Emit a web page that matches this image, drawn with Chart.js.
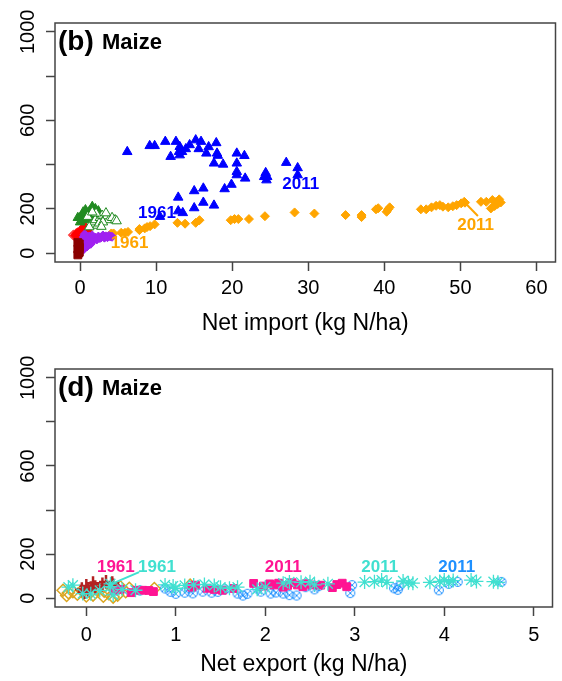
<!DOCTYPE html>
<html>
<head>
<meta charset="utf-8">
<script src="https://cdn.jsdelivr.net/npm/chart.js@4.4.1/dist/chart.umd.min.js"></script>
<style>
  html, body { margin: 0; padding: 0; background: #fff; }
  #wrap { position: relative; width: 562px; height: 681px; }
  #importChart { position: absolute; left: 0; top: 0; }
  #exportChart { position: absolute; left: 0; top: 340px; }
</style>
</head>
<body>
<div id="wrap">
  <canvas id="importChart" width="562" height="340" style="width:562px;height:340px"></canvas>
  <canvas id="exportChart" width="562" height="341" style="width:562px;height:341px"></canvas>
</div>
<script>
// ---- axes ----
const yTicks = [0, 200, 400, 600, 800, 1000];
const yTickLabels = ['0', '200', '', '600', '', '1000'];
const importTicks = [0, 10, 20, 30, 40, 50, 60];
const exportTicks = [0, 1, 2, 3, 4, 5];

// ---- (b) net-importing countries: [net import, y] ----
const importBlue = [
  [10.5,165],[12.9,190],[13.5,182],[15.0,204],[17.6,216],[16.2,229],[12.9,252],[15.0,281],
  [16.2,293],[19.0,290],[19.9,310],[21.7,338],[20.6,353],[20.6,368],[20.6,406],[18.8,401],
  [17.6,406],[21.6,440],[20.6,451],[18.1,441],[18.0,451],[17.9,498],[16.9,480],[16.6,451],
  [15.9,504],[15.6,471],[15.2,511],[14.4,489],[13.9,471],[13.4,458],[13.1,443],[13.0,458],
  [13.1,481],[12.6,504],[11.9,436],[11.2,504],[9.8,485],[9.15,485],[6.2,458],[24.4,363],
  [24.6,345],[24.2,345],[24.5,330],[27.1,409],[28.6,385],[28.6,353]
];
const importOrange = [
  [4.1,89],[4.4,89],[5.4,92],[5.9,92],[6.3,96],[7.8,104],[7.8,109],[8.5,112],[8.8,118],
  [9.2,122],[9.8,130],[12.8,137],[13.8,133],[15.2,137],[15.7,149],[19.8,149],[20.3,154],
  [20.8,154],[22.2,154],[24.3,167],[28.2,184],[30.8,179],[34.9,172],[37.0,172],[37.0,163],
  [38.9,198],[39.2,203],[40.3,187],[40.5,198],[40.7,207],[44.8,198],[45.5,198],[46.2,207],
  [46.8,214],[47.3,217],[47.7,210],[48.4,207],[49.0,212],[49.5,217],[50.1,225],[50.5,232],
  [52.7,232],[53.4,232],[54.2,240],[54.7,232],[55.1,243],[55.3,229],[54.0,202],[54.5,213],
  [54.9,222],[50.6,228]
];
const importGreen = [
  [0.0,140],[0.2,150],[0.1,165],[0.3,170],[0.5,160],[0.6,175],[0.8,180],[1.0,170],[1.1,185],
  [1.3,190],[1.5,200],[1.6,210],[1.8,195],[2.0,200],[2.2,185],[2.4,190],[2.6,175],[1.2,160],
  [0.9,150],[1.7,170],[2.0,165],[0.4,185],[0.7,195],[1.4,178],[2.8,160],[3.0,150],[1.9,150],
  [2.3,145],[-0.3,160]
];
const importGreenOpen = [
  [1.5,130],[1.8,140],[2.0,150],[2.3,125],[2.6,160],[2.9,170],[3.2,155],[3.5,168],[3.8,150],
  [4.2,160],[4.6,150],[4.8,145],[2.5,135],[3.0,140],[1.2,118],[2.1,180],[3.4,181],[1.0,165],
  [1.6,185],[2.8,120]
];
const importRed = [
  [-0.5,80],[-0.3,90],[0.0,95],[0.2,100],[0.4,110],[0.6,118],[0.8,105],[0.3,85],[0.0,75],
  [0.5,95],[0.7,90],[0.9,100]
];
const importRedOpen = [[-0.9,82],[-0.7,78],[-0.5,88]];
const importPurple = [
  [0.2,25],[0.3,35],[0.2,45],[0.3,55],[0.4,65],[0.5,75],[0.6,85],[0.7,40],[0.8,55],[1.0,65],
  [1.0,45],[1.2,75],[1.3,55],[1.5,65],[1.6,80],[1.8,60],[2.0,70],[2.2,62],[2.4,75],[2.6,68],
  [2.8,72],[3.0,80],[3.2,70],[3.4,76],[3.6,72],[3.8,78],[4.0,75],[4.2,74],[0.9,30],[1.4,42],
  [0.5,20],[0.3,12]
];
const importDarkRed = [
  [-0.3,-8],[-0.2,0],[-0.2,10],[-0.3,18],[-0.1,26],[-0.2,34],[-0.1,42],[-0.3,48],[-0.1,4],[-0.15,20]
];

// ---- (d) net-exporting countries: [net export, y] ----
const exportGold = [
  [-0.26,36],[-0.2,25],[-0.15,29],[-0.1,18],[-0.05,35],[0.0,10],[0.05,28],[0.075,14],[0.19,9],
  [0.25,20],[0.3,5],[0.35,14],[0.44,29],[0.48,45],[0.38,52],[0.76,44],[1.16,59],[0.12,40],
  [-0.22,12],[0.2,32]
];
const exportDarkRed = [
  [-0.05,40],[0.0,55],[0.02,36],[0.05,45],[0.075,68],[-0.02,28],[0.1,50],[0.22,74],[0.29,68],
  [0.3,58],[0.18,62]
];
const exportPink = [
  [0.31,33],[0.38,40],[0.5,25],[0.56,36],[0.63,36],[0.7,35],[0.75,30],[1.18,50],[1.22,59],
  [1.35,45],[1.43,40],[1.52,36],[1.65,44],[1.87,67],[1.98,55],[2.05,65],[2.1,60],[2.15,68],
  [2.25,58],[2.3,70],[2.36,60],[2.42,52],[2.46,66],[2.52,60],[2.62,59],[2.75,48],[2.8,62],
  [2.86,68],[2.91,52],[2.2,50]
];
const exportTeal = [
  [-0.2,50],[-0.15,59],[-0.04,21],[0.05,20],[0.15,35],[0.27,52],[0.3,15],[0.27,65],[0.4,40],
  [0.55,36],[0.88,60],[0.97,55],[1.0,45],[1.1,58],[1.2,60],[1.32,62],[1.43,58],[1.6,45],
  [1.69,50],[1.91,40],[2.0,50],[2.2,68],[2.27,74],[2.4,72],[2.5,75],[2.55,60],[3.11,73],
  [3.22,75],[3.3,82],[3.36,72],[3.54,78],[3.6,70],[3.65,68],[3.84,72],[3.95,76],[4.0,82],
  [4.05,75],[4.1,80],[4.3,82],[4.36,76],[4.55,75],[4.6,72],[1.5,50],[2.7,65]
];
const exportBlue = [
  [0.88,44],[0.94,29],[1.0,20],[1.1,25],[1.19,22],[1.3,30],[1.4,25],[1.47,29],[1.55,40],
  [1.69,21],[1.75,12],[1.8,20],[1.91,44],[1.95,30],[2.06,21],[2.12,26],[2.2,21],[2.27,14],
  [2.35,12],[2.55,40],[2.6,55],[2.95,23],[2.97,59],[3.44,45],[3.48,38],[3.5,55],[3.94,36],
  [4.05,65],[4.15,74],[4.64,74],[0.6,35],[1.15,45],[2.45,50]
];

// ---- year annotations [text, x, y, colour] and leader segments ----
const importNotes = [
  ['1961', 10.1, 181, '#0000FF'], ['2011', 29.0, 311, '#0000FF'],
  ['1961', 6.5, 45, '#FFA500'], ['2011', 52.0, 127, '#FFA500']
];
const importLeaders = [[52.3, 168, 50.6, 228, '#FFA500']];
const exportNotes = [
  ['1961', 0.33, 142, '#FF1493'], ['1961', 0.79, 142, '#40E0D0'],
  ['2011', 2.2, 142, '#FF1493'], ['2011', 3.28, 142, '#40E0D0'], ['2011', 4.14, 142, '#1E90FF']
];
const exportLeaders = [[0.59, 118, 0.29, 66, '#40E0D0']];

const FONT = '"Liberation Sans", Arial, Helvetica, sans-serif';
const AXIS_GREY = '#444444';
const pts = arr => arr.map(([x, y]) => ({ x, y }));

// circle with a diagonal cross, used for the blue export series
function circleCross(color) {
  const c = document.createElement('canvas');
  c.width = 12; c.height = 12;
  const g = c.getContext('2d');
  g.strokeStyle = color; g.lineWidth = 1;
  g.beginPath(); g.arc(6, 6, 4.5, 0, Math.PI * 2); g.stroke();
  g.beginPath();
  g.moveTo(2.8, 2.8); g.lineTo(9.2, 9.2);
  g.moveTo(9.2, 2.8); g.lineTo(2.8, 9.2);
  g.stroke();
  return c;
}

// frame, panel tag and year notes
const panelPlugin = {
  id: 'panel',
  afterDatasetsDraw(chart, args, opts) {
    const { ctx, chartArea: a } = chart;
    const sx = chart.scales.x, sy = chart.scales.y;
    ctx.save();
    ctx.strokeStyle = AXIS_GREY;
    ctx.lineWidth = 1.5;
    ctx.strokeRect(a.left, a.top, a.right - a.left, a.bottom - a.top);

    opts.leaders.forEach(([x1, y1, x2, y2, col]) => {
      ctx.strokeStyle = col; ctx.lineWidth = 2;
      ctx.beginPath();
      ctx.moveTo(sx.getPixelForValue(x1), sy.getPixelForValue(y1));
      ctx.lineTo(sx.getPixelForValue(x2), sy.getPixelForValue(y2));
      ctx.stroke();
    });

    ctx.font = 'bold 17px ' + FONT;
    ctx.textAlign = 'center';
    ctx.textBaseline = 'middle';
    opts.notes.forEach(([t, x, y, col]) => {
      ctx.fillStyle = col;
      ctx.fillText(t, sx.getPixelForValue(x), sy.getPixelForValue(y));
    });

    ctx.fillStyle = '#000';
    ctx.textAlign = 'left';
    ctx.textBaseline = 'alphabetic';
    ctx.font = 'bold 28px ' + FONT;
    ctx.fillText(opts.tag, a.left + 3, a.top + 27);
    ctx.font = 'bold 22px ' + FONT;
    ctx.fillText('Maize', a.left + 47, a.top + 26);
    ctx.restore();
  }
};

function gridOpts() {
  return { display: true, drawOnChartArea: false, drawTicks: true, tickLength: 9,
           tickWidth: 1.5, tickColor: AXIS_GREY };
}

function buildChart(id, cfg) {
  return new Chart(document.getElementById(id), {
    type: 'scatter',
    data: { datasets: cfg.datasets },
    plugins: [panelPlugin],
    options: {
      responsive: false,
      animation: false,
      events: [],
      layout: { padding: { top: cfg.padTop, right: 4, left: 0, bottom: 0 } },
      plugins: {
        legend: { display: false },
        tooltip: { enabled: false },
        panel: { tag: cfg.tag, notes: cfg.notes, leaders: cfg.leaders }
      },
      scales: {
        x: {
          type: 'linear', min: cfg.xMin, max: cfg.xMax,
          afterBuildTicks: s => { s.ticks = cfg.xTicks.map(v => ({ value: v })); },
          afterFit: s => { s.height = cfg.xHeight; },
          grid: gridOpts(),
          border: { display: false },
          ticks: { font: { family: FONT, size: 20 }, color: '#000', padding: cfg.xTickPad,
                   maxRotation: 0, autoSkip: false, callback: v => String(v) },
          title: { display: true, text: cfg.xTitle, color: '#000',
                   font: { family: FONT, size: 23 }, padding: { top: 0, bottom: cfg.titlePad } }
        },
        y: {
          type: 'linear', min: -40, max: 1040,
          afterBuildTicks: s => { s.ticks = yTicks.map(v => ({ value: v })); },
          afterFit: s => { s.width = 55; },
          grid: gridOpts(),
          border: { display: false },
          ticks: { font: { family: FONT, size: 20 }, color: '#000', minRotation: 90, maxRotation: 90,
                   crossAlign: 'center', padding: -5, autoSkip: false,
                   callback: (v, i) => yTickLabels[i] }
        }
      }
    }
  });
}

const filled = (data, color, style, r) => ({
  data: pts(data), pointStyle: style, pointRadius: r, backgroundColor: color,
  borderColor: color, borderWidth: 1, showLine: false
});
const open = (data, color, style, r, fill, w) => ({
  data: pts(data), pointStyle: style, pointRadius: r, backgroundColor: fill,
  borderColor: color, borderWidth: w, showLine: false
});

buildChart('importChart', {
  tag: '(b)', padTop: 23, xHeight: 78, xTickPad: 5, titlePad: 3,
  xMin: -3.3, xMax: 62.5, xTicks: importTicks, xTitle: 'Net import (kg N/ha)',
  notes: importNotes, leaders: importLeaders,
  datasets: [
    open(importGreenOpen, '#228B22', 'triangle', 5.5, '#ffffff', 1),
    filled(importGreen, '#228B22', 'triangle', 5.5),
    filled(importDarkRed, '#8B0000', 'rect', 5.5),
    filled(importPurple, '#A020F0', 'rectRot', 4.5),
    filled(importRed, '#FF0000', 'rectRot', 5.5),
    open(importRedOpen, '#FF4040', 'rectRot', 4.5, 'rgba(0,0,0,0)', 1.5),
    filled(importOrange, '#FFA500', 'rectRot', 4.5),
    filled(importBlue, '#0000FF', 'triangle', 5.5)
  ]
});

buildChart('exportChart', {
  tag: '(d)', padTop: 29, xHeight: 74, xTickPad: 7, titlePad: 3,
  xMin: -0.35, xMax: 5.21, xTicks: exportTicks, xTitle: 'Net export (kg N/ha)',
  notes: exportNotes, leaders: exportLeaders,
  datasets: [
    open(exportTeal, '#40E0D0', 'star', 7, 'rgba(0,0,0,0)', 1.3),
    filled(exportPink, '#FF1493', 'rect', 5.5),
    { data: pts(exportBlue), pointStyle: circleCross('#1E90FF'), pointRadius: 5, showLine: false },
    open(exportDarkRed, '#B22222', 'cross', 7, 'rgba(0,0,0,0)', 2.5),
    open(exportGold, '#DAA520', 'rectRot', 6, 'rgba(0,0,0,0)', 1.5)
  ]
});
</script>
</body>
</html>
